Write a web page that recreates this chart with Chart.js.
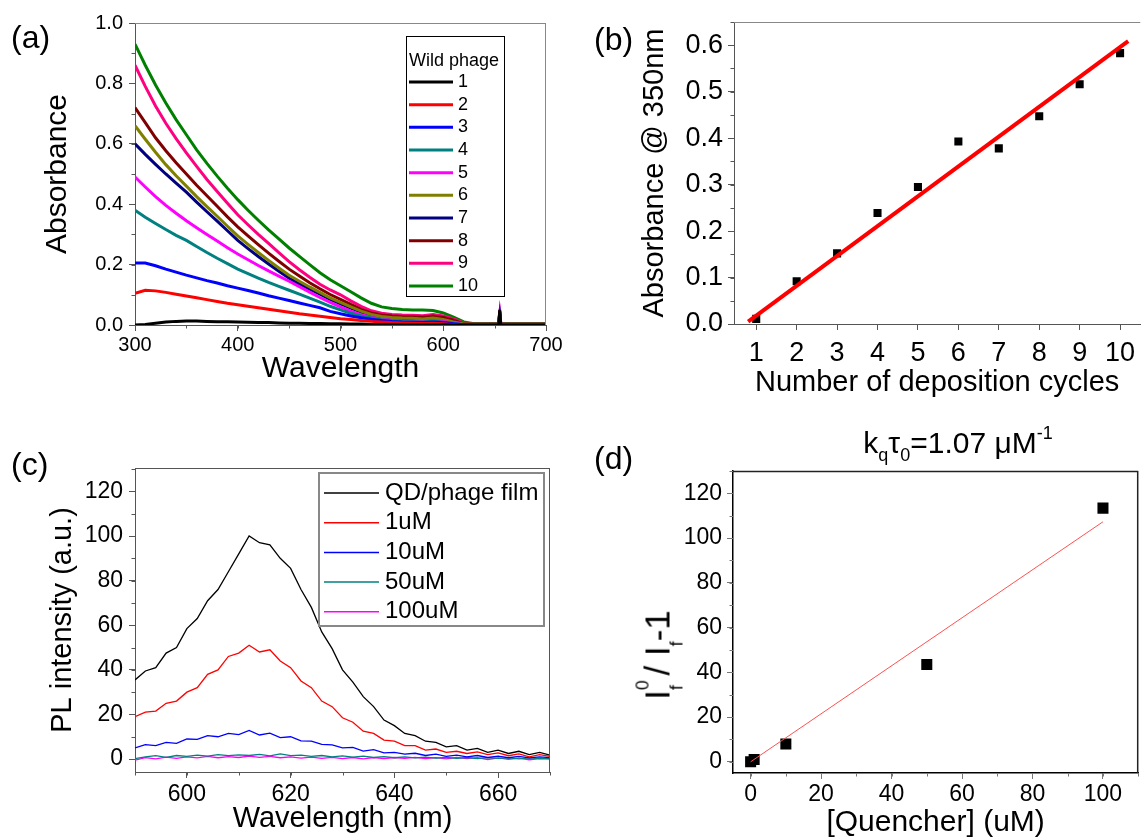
<!DOCTYPE html>
<html>
<head>
<meta charset="utf-8">
<script src="https://cdn.jsdelivr.net/npm/chart.js@4.4.0/dist/chart.umd.min.js"></script>
<style>
  body { margin: 0; background: #fff; }
  #page { position: relative; width: 1146px; height: 838px; overflow: hidden; background: #fff;
          font-family: "Liberation Sans", Arial, sans-serif; color: #000; }
  canvas { position: absolute; }
  .tag { position: absolute; font-size: 32px; line-height: 32px; }
  .sb, .sp { position: relative; font-size: 0.6em; }
  #dTitle { position: absolute; left: 958px; top: 428px; transform: translateX(-50%);
            font-size: 30px; line-height: 1; white-space: nowrap; }
  #dTitle .sb { top: 0.45em; }
  #dTitle .sp { top: -0.8em; }
  #dYTitle { position: absolute; left: 657px; top: 655px; transform: translate(-50%, -50%) rotate(-90deg);
             font-size: 35px; line-height: 1; white-space: nowrap; }
  #dYTitle .sp { font-size: 0.5em; top: -1.2em; }
  #dYTitle .sb { font-size: 0.5em; top: 0.72em; }
  #dYTitle .stack { margin-left: -0.556em; }
</style>
</head>
<body>
<div id="page">
  <canvas id="chartA" width="573" height="419" style="left:0;top:0"></canvas>
  <canvas id="chartB" width="573" height="419" style="left:573px;top:0"></canvas>
  <canvas id="chartC" width="573" height="419" style="left:0;top:419px"></canvas>
  <canvas id="chartD" width="573" height="419" style="left:573px;top:419px"></canvas>
  <div class="tag" style="left:11px;top:21px">(a)</div>
  <div class="tag" style="left:594px;top:23px">(b)</div>
  <div class="tag" style="left:11px;top:448px">(c)</div>
  <div class="tag" style="left:594px;top:442px">(d)</div>
  <div id="dTitle">k<span class="sb">q</span>τ<span class="sb">0</span>=1.07 μM<span class="sp">-1</span></div>
  <div id="dYTitle">I<span class="sp">0</span><span class="sb stack">f</span> / I<span class="sb">f</span>-1</div>
</div>
<script>
// (a) absorbance spectra, one array per deposition cycle
const wl = [300, 310, 320, 330, 340, 350, 360, 370, 380, 390, 400, 410, 420, 430, 440, 450, 460, 470, 480, 490,
            500, 510, 520, 530, 540, 550, 560, 570, 580, 590, 600, 610, 620, 630, 640, 650, 654, 655, 656,
            660, 670, 680, 690, 700];
const phage1 = [0, .002, .006, .01, .012, .013, .013, .012, .011, .011, .01, .009, .008, .008, .007, .006, .006, .005, .005, .004,
                .004, .003, .003, .002, .002, .002, .001, .001, .001, .001, .001, 0, 0, 0, 0, 0, 0, .05, 0, 0, 0, 0, 0, 0];
const phage2 = [.105, .115, .113, .108, .102, .096, .09, .084, .078, .072, .067, .062, .057, .052, .047, .042, .037, .033, .029, .025,
                .021, .018, .015, .012, .01, .008, .007, .006, .005, .006, .004, .002, 0, .002, .002, .002, .002, .045, .002, .002, .002, .002, .002, .002];
const phage3 = [.205, .205, .196, .185, .175, .165, .156, .147, .139, .13, .122, .114, .106, .097, .089, .081, .073, .065, .057, .045,
                .037, .03, .024, .019, .015, .012, .01, .009, .008, .01, .008, .004, .001, .002, .002, .002, .002, .03, .002, .002, .002, .002, .002, .002];
const phage4 = [.38, .357, .336, .316, .297, .28, .26, .24, .221, .203, .185, .17, .155, .141, .128, .115, .102, .089, .076, .062,
                .05, .039, .03, .023, .017, .014, .012, .011, .01, .012, .009, .005, .001, .002, .002, .002, .002, .03, .002, .002, .002, .002, .002, .002];
const phage5 = [.49, .457, .425, .396, .37, .345, .322, .3, .278, .256, .235, .216, .197, .179, .162, .145, .127, .109, .091, .075,
                .06, .046, .034, .025, .019, .016, .014, .013, .012, .015, .012, .006, .001, .002, .002, .002, .002, .035, .002, .002, .002, .002, .002, .002];
const phage6 = [.66, .615, .572, .531, .494, .46, .425, .392, .36, .327, .295, .267, .24, .214, .189, .165, .145, .126, .108, .09,
                .075, .06, .046, .035, .028, .025, .023, .022, .02, .023, .018, .01, .003, .003, .003, .003, .003, .04, .003, .003, .003, .003, .003, .003];
const phage7 = [.6, .565, .532, .5, .47, .44, .407, .375, .344, .312, .28, .253, .227, .202, .178, .155, .136, .119, .102, .085,
                .07, .056, .043, .032, .025, .022, .02, .019, .017, .02, .016, .009, .002, .003, .003, .003, .003, .04, .003, .003, .003, .003, .003, .003];
const phage8 = [.72, .67, .62, .577, .537, .5, .463, .428, .393, .358, .325, .295, .266, .238, .211, .185, .162, .14, .12, .101,
                .085, .068, .052, .04, .033, .03, .028, .027, .026, .03, .025, .016, .004, .003, .003, .003, .003, .045, .003, .003, .003, .003, .003, .003];
const phage9 = [.86, .79, .725, .668, .617, .57, .525, .482, .442, .403, .365, .332, .3, .27, .24, .21, .183, .158, .135, .116,
                .1, .08, .062, .047, .039, .035, .033, .032, .031, .035, .03, .02, .006, .003, .003, .003, .003, .035, .003, .003, .003, .003, .003, .003];
const phage10 = [.93, .86, .795, .735, .68, .63, .58, .535, .493, .453, .415, .38, .347, .315, .285, .255, .227, .2, .173, .15,
                 .13, .11, .09, .072, .06, .055, .051, .05, .05, .048, .04, .026, .01, .004, .004, .004, .004, .02, .004, .004, .004, .004, .004, .004];
const phageLabels = ['1', '2', '3', '4', '5', '6', '7', '8', '9', '10'];
const phageColors = ['#000000', '#ff0000', '#0000ff', '#008080', '#ff00ff', '#808000', '#000080', '#800000', '#ff0080', '#008000'];

// (b) absorbance at 350 nm vs deposition cycles, with linear fit
const cycles = [1, 2, 3, 4, 5, 6, 7, 8, 9, 10];
const abs350 = [0.011, 0.092, 0.152, 0.239, 0.295, 0.393, 0.378, 0.447, 0.516, 0.583];
const cycleFitX = [0.8, 10.2];
const cycleFitY = [0.005, 0.609];

// (c) PL spectra
const plWl = [590, 592, 594, 596, 598, 600, 602, 604, 606, 608, 610, 612, 614, 616, 618, 620, 622, 624, 626, 628,
              630, 632, 634, 636, 638, 640, 642, 644, 646, 648, 650, 652, 654, 656, 658, 660, 662, 664, 666, 668, 670];
const plTicks = [600, 620, 640, 660];
const plFilm = [35.5, 39.5, 41, 47.5, 50, 58.5, 63, 71, 76, 84, 92, 100, 97, 96, 90, 85.5, 76, 68, 57, 49.5,
                40, 34.5, 28, 23.5, 17.5, 15, 11.5, 10.5, 8, 7.5, 5.5, 6, 4, 4.8, 3, 4, 2.5, 3.5, 2, 3, 1.8];
const pl1uM = [19, 21, 21.5, 25, 26, 30, 32, 38, 40, 46, 47.5, 51, 48, 49, 44, 41, 35, 32, 26, 23.5,
               18.5, 16.5, 12.5, 11.5, 8.5, 8, 6, 6, 4, 4.5, 3, 3.5, 2.5, 3.2, 2, 2.8, 1.5, 2.3, 1, 2, 1.2];
const pl10uM = [5, 6.5, 6, 7.5, 7, 9, 8.8, 10.5, 10, 11.5, 11, 12.8, 10.8, 11.6, 9.6, 10, 8.2, 8, 6.6, 6.4,
                5, 5.2, 3.6, 4.2, 2.8, 3, 2.2, 2.6, 1.6, 2.2, 1.2, 1.8, 1, 1.6, 0.7, 1.3, 0.6, 1.2, 0.5, 1, 0.6];
const pl50uM = [0.2, 1, 1.5, 0.8, 1.6, 1.2, 1.8, 1.3, 2, 1.5, 1.9, 1.6, 2.1, 1.4, 2.3, 1.5, 1.8, 1.2, 1.6, 1,
                1.4, 0.9, 1.3, 0.7, 1.1, 0.6, 1, 0.5, 0.9, 0.4, 0.8, 0.3, 0.7, 0.2, 0.6, 0.3, 0.5, 0.1, 0.5, 0.2, 0.3];
const pl100uM = [-0.5, 0.6, 0.1, 0.9, 0.3, 1, 0.5, 1.2, 0.6, 1.1, 0.7, 1.3, 0.8, 1.2, 0.6, 1, 0.4, 0.9, 0.3, 0.8,
                 0.2, 0.7, 0.1, 0.6, 0.2, 0.7, 0.3, 0.8, 0.2, 0.6, 0.1, 0.7, 0.2, 0.6, -0.2, 0.5, -0.1, 0.4, -0.3, 0.2, 0];
const plLabels = ['QD/phage film', '1uM', '10uM', '50uM', '100uM'];
const plColors = ['#000000', '#ff0000', '#0000ff', '#008080', '#ff00ff'];

// (d) Stern-Volmer plot
const quencher = [0, 1, 10, 50, 100];
const svRatio = [0, 1, 8, 43.5, 113.4];
const svFitX = [0, 100];
const svFitY = [0, 107.3];

Chart.defaults.font.family = '"Liberation Sans", Arial, sans-serif';
Chart.defaults.color = '#000';

const pts = (xs, ys) => xs.map((x, i) => ({ x: x, y: ys[i] }));

// small outward minor ticks between the major ones
const minorTicks = {
  id: 'minorTicks',
  afterDraw(chart, args, o) {
    const ctx = chart.ctx;
    ctx.save();
    ctx.strokeStyle = o.color || '#555';
    ctx.lineWidth = 1;
    ['x', 'y'].forEach(id => {
      const step = o[id];
      if (!step) return;
      const s = chart.scales[id];
      for (let v = Math.ceil(s.min / step) * step; v <= s.max + 1e-9; v += step) {
        const p = Math.round(s.getPixelForValue(v)) + 0.5;
        ctx.beginPath();
        if (id === 'x') { ctx.moveTo(p, s.top); ctx.lineTo(p, s.top + o.len); }
        else { ctx.moveTo(s.right, p); ctx.lineTo(s.right - o.len, p); }
        ctx.stroke();
      }
    });
    ctx.restore();
  }
};

// top / right edges of the plot box
const frame = {
  id: 'frame',
  afterDraw(chart, args, o) {
    const { ctx, chartArea: a } = chart;
    ctx.save();
    ctx.strokeStyle = o.color;
    ctx.lineWidth = o.width || 1;
    ctx.beginPath();
    ctx.moveTo(a.left, a.top + 0.5);
    ctx.lineTo(a.right, a.top + 0.5);
    if (o.right !== false) {
      ctx.moveTo(a.right - 0.5, a.top);
      ctx.lineTo(a.right - 0.5, a.bottom);
    }
    ctx.stroke();
    ctx.restore();
  }
};

// legend drawn in a box inside the plot, like the Origin figure
const boxLegend = {
  id: 'boxLegend',
  afterDatasetsDraw(chart, args, o) {
    if (!o.show) return;
    const ctx = chart.ctx;
    ctx.save();
    ctx.fillStyle = '#fff';
    ctx.fillRect(o.x, o.y, o.w, o.h);
    ctx.strokeStyle = o.borderColor;
    ctx.lineWidth = o.borderWidth;
    ctx.strokeRect(o.x, o.y, o.w, o.h);
    ctx.font = o.font;
    ctx.textBaseline = 'middle';
    ctx.fillStyle = '#000';
    if (o.title) ctx.fillText(o.title, o.titleX, o.titleY);
    let y = o.firstY;
    chart.data.datasets.forEach(ds => {
      ctx.strokeStyle = ds.borderColor;
      ctx.lineWidth = o.lineWidth;
      ctx.beginPath();
      ctx.moveTo(o.lineX0, y);
      ctx.lineTo(o.lineX1, y);
      ctx.stroke();
      ctx.fillStyle = '#000';
      ctx.fillText(ds.label, o.textX, y);
      y += o.rowH;
    });
    ctx.restore();
  }
};

function axis(o) {
  const cfg = {
    type: 'linear',
    min: o.min,
    max: o.max,
    border: { color: o.line || '#555', width: o.lineW || 1 },
    grid: { drawOnChartArea: false, tickLength: 6, color: o.tickColor || '#555' },
    ticks: {
      stepSize: o.step, includeBounds: false, padding: o.pad, color: '#000', maxRotation: 0, autoSkip: false,
      font: { size: o.font },
      callback: o.fmt || (v => v)
    },
    title: o.title
      ? { display: true, text: o.title, color: '#000', padding: 0, font: { size: o.titleSize, lineHeight: o.titleLh || 1.2 } }
      : { display: false },
    afterFit: s => {
      if (o.w) s.width = o.w;
      if (o.h) s.height = o.h;
    }
  };
  if (o.tickValues) {
    cfg.afterBuildTicks = s => { s.ticks = o.tickValues.map(v => ({ value: v })); };
  }
  return cfg;
}

const baseOptions = { responsive: false, animation: false, events: [] };

// (a)
const phageSets = [phage1, phage2, phage3, phage4, phage5, phage6, phage7, phage8, phage9, phage10];
new Chart(document.getElementById('chartA'), {
  type: 'line',
  data: {
    datasets: phageSets.map((vals, i) => ({
      label: phageLabels[i],
      data: pts(wl, vals),
      borderColor: phageColors[i],
      borderWidth: 3,
      pointRadius: 0,
      tension: 0
    }))
  },
  options: Object.assign({}, baseOptions, {
    layout: { padding: { left: 40, top: 23, right: 27, bottom: 32 } },
    plugins: {
      legend: { display: false }, tooltip: { enabled: false },
      minorTicks: { x: 50, y: 0.1, len: 3.5, color: '#555' },
      frame: { color: '#888' },
      boxLegend: {
        show: true, x: 406.5, y: 36.5, w: 98, h: 260, borderColor: '#000', borderWidth: 1,
        font: '18px "Liberation Sans", Arial, sans-serif', title: 'Wild phage', titleX: 409, titleY: 61,
        firstY: 82, rowH: 22.67, lineX0: 409, lineX1: 453, textX: 458, lineWidth: 3
      }
    },
    scales: {
      x: axis({ min: 300, max: 700, step: 100, font: 20, pad: 2, title: 'Wavelength', titleSize: 30, h: 62 }),
      y: axis({ min: 0, max: 1, step: 0.2, font: 20, pad: 6, fmt: v => v.toFixed(1), title: 'Absorbance', titleSize: 30, w: 95 })
    }
  }),
  plugins: [minorTicks, frame, boxLegend]
});

// (b)
new Chart(document.getElementById('chartB'), {
  type: 'scatter',
  data: {
    datasets: [
      { label: 'fit', data: pts(cycleFitX, cycleFitY), showLine: true, borderColor: '#ff0000', borderWidth: 4, pointRadius: 0 },
      { label: 'A350', data: pts(cycles, abs350), pointStyle: 'rect', pointRadius: 5.7, backgroundColor: '#000', borderWidth: 0 }
    ]
  },
  options: Object.assign({}, baseOptions, {
    layout: { padding: { left: 65, top: 22, right: 0, bottom: 19 } },
    plugins: {
      legend: { display: false }, tooltip: { enabled: false },
      minorTicks: { y: 0.05, len: 3.5, color: '#555' },
      frame: { color: '#888', right: false }
    },
    scales: {
      x: axis({ min: 0.45, max: 10.5, step: 1, font: 27, pad: 7, tickValues: cycles,
                title: 'Number of deposition cycles', titleSize: 29, h: 76 }),
      y: axis({ min: 0, max: 0.65, step: 0.1, font: 27, pad: 5, fmt: v => v.toFixed(1), title: 'Absorbance @ 350nm', titleSize: 29, w: 96 })
    }
  }),
  plugins: [minorTicks, frame]
});

// (c)
const plSets = [plFilm, pl1uM, pl10uM, pl50uM, pl100uM];
new Chart(document.getElementById('chartC'), {
  type: 'line',
  data: {
    datasets: plSets.map((vals, i) => ({
      label: plLabels[i],
      data: pts(plWl, vals),
      borderColor: plColors[i],
      borderWidth: 1.3,
      pointRadius: 0,
      tension: 0
    }))
  },
  options: Object.assign({}, baseOptions, {
    layout: { padding: { left: 46, top: 49, right: 23, bottom: 2 } },
    plugins: {
      legend: { display: false }, tooltip: { enabled: false },
      minorTicks: { x: 10, y: 10, len: 3.5, color: '#555' },
      frame: { color: '#555' },
      boxLegend: {
        show: true, x: 319, y: 54, w: 225, h: 153, borderColor: '#888', borderWidth: 2,
        font: '24px "Liberation Sans", Arial, sans-serif',
        firstY: 74, rowH: 29.7, lineX0: 324, lineX1: 379, textX: 385, lineWidth: 1.5
      }
    },
    scales: {
      x: axis({ min: 590, max: 670, step: 20, font: 23, pad: 3, tickValues: plTicks,
                title: 'Wavelength (nm)', titleSize: 29, h: 64 }),
      y: axis({ min: -5.8, max: 130.5, step: 20, font: 23, pad: 6, title: 'PL intensity (a.u.)', titleSize: 29, w: 89 })
    }
  }),
  plugins: [minorTicks, frame, boxLegend]
});

// (d)
new Chart(document.getElementById('chartD'), {
  type: 'scatter',
  data: {
    datasets: [
      { label: 'fit', data: pts(svFitX, svFitY), showLine: true, borderColor: '#ff5050', borderWidth: 1, pointRadius: 0 },
      { label: 'I0/I-1', data: pts(quencher, svRatio), pointStyle: 'rect', pointRadius: 7.8, backgroundColor: '#000', borderWidth: 0 }
    ]
  },
  options: Object.assign({}, baseOptions, {
    layout: { padding: { left: 0, top: 52, right: 2, bottom: 0 } },
    plugins: {
      legend: { display: false }, tooltip: { enabled: false },
      minorTicks: { x: 10, y: 10, len: 3.5, color: '#777' },
      frame: { color: '#222', width: 1.5 }
    },
    scales: {
      x: axis({ min: -5, max: 110, step: 20, font: 23, pad: 2, line: '#000', lineW: 1.5, tickColor: '#777',
                title: '[Quencher] (uM)', titleSize: 30, titleLh: 1, h: 65 }),
      y: axis({ min: -5, max: 130, step: 20, font: 23, pad: 5, line: '#000', lineW: 1.5, tickColor: '#777', w: 160 })
    }
  }),
  plugins: [minorTicks, frame]
});
</script>
</body>
</html>
